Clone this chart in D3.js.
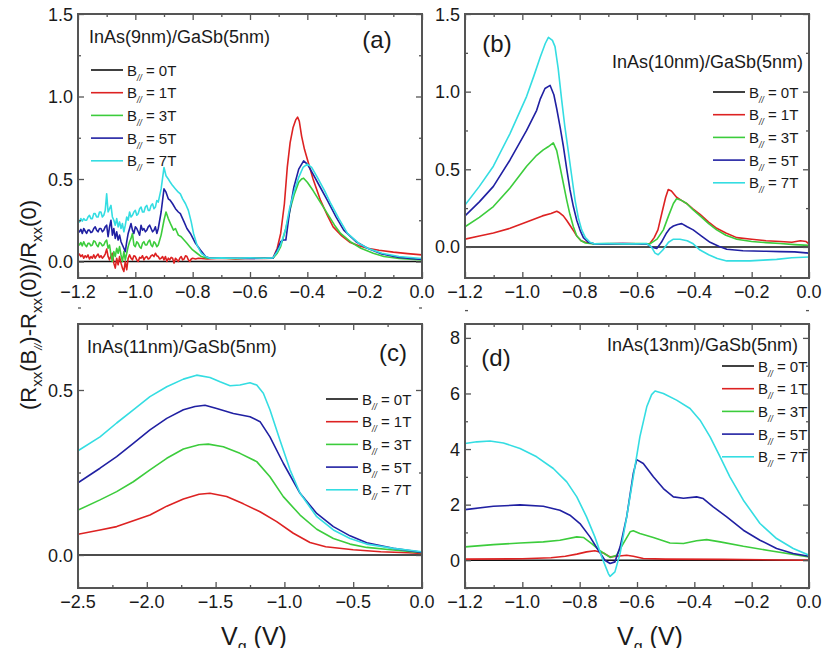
<!DOCTYPE html>
<html>
<head>
<meta charset="utf-8">
<script src="https://cdn.jsdelivr.net/npm/d3@7"></script>
<style>
  html, body { margin: 0; padding: 0; background: #fff; }
  svg { display: block; font-family: "Liberation Sans", Arial, sans-serif; }
</style>
</head>
<body>
<svg id="fig" width="822" height="657"></svg>
<script>
// Field strengths (legend order) and their line colours
const fields = ["0T", "1T", "3T", "5T", "7T"];
const fieldColors = ["#111111", "#dd2222", "#3ccc3c", "#2020a2", "#34dde2"];

// ---------- (a) InAs(9nm)/GaSb(5nm) : [Vg, ΔR/R] ----------
const a1T = [[-1.2,0.035],[-1.195,0.045],[-1.19,0.03],[-1.185,0.04],[-1.18,0.02],[-1.175,0.035],[-1.17,0.025],[-1.165,0.04],[-1.16,0.015],[-1.155,0.03],[-1.15,0.02],[-1.145,0.04],[-1.14,0.02],[-1.135,0.035],[-1.13,0.045],[-1.125,0.025],[-1.12,0.035],[-1.115,0.02],[-1.11,0.03],[-1.105,0.045],[-1.1,0.075],[-1.095,0.03],[-1.09,0.01],[-1.085,0.035],[-1.08,0.05],[-1.075,-0.01],[-1.07,-0.04],[-1.065,0.02],[-1.06,-0.02],[-1.055,0.03],[-1.05,-0.01],[-1.045,-0.04],[-1.04,-0.06],[-1.035,0.0],[-1.03,-0.05],[-1.025,0.02],[-1.02,0.04],[-1.015,0.02],[-1.01,0.01],[-1.005,0.035],[-1.0,0.03],[-0.995,0.01],[-0.99,0.0],[-0.985,0.025],[-0.98,0.02],[-0.975,0.035],[-0.97,0.01],[-0.965,0.025],[-0.96,0.03],[-0.955,0.015],[-0.95,0.02],[-0.945,0.035],[-0.94,0.04],[-0.935,0.03],[-0.93,0.05],[-0.925,0.035],[-0.92,0.03],[-0.915,0.015],[-0.91,0.02],[-0.905,0.03],[-0.9,0.01],[-0.895,0.03],[-0.89,0.0],[-0.885,0.02],[-0.88,0.01],[-0.875,0.025],[-0.87,0.02],[-0.865,-0.01],[-0.86,0.02],[-0.855,0.01],[-0.85,0.0],[-0.845,0.02],[-0.84,0.03],[-0.835,0.01],[-0.83,0.015],[-0.825,0.035],[-0.82,0.03],[-0.815,0.01],[-0.81,0.0],[-0.805,0.015],[-0.8,0.02],[-0.79,0.015],[-0.78,0.02],[-0.75,0.015],[-0.7,0.02],[-0.65,0.015],[-0.6,0.02],[-0.55,0.018],[-0.52,0.02],[-0.505,0.08],[-0.493,0.17],[-0.48,0.35],[-0.47,0.57],[-0.46,0.72],[-0.45,0.81],[-0.44,0.86],[-0.434,0.875],[-0.428,0.85],[-0.42,0.76],[-0.41,0.68],[-0.4,0.62],[-0.38,0.5],[-0.354,0.37],[-0.33,0.28],[-0.31,0.21],[-0.28,0.155],[-0.25,0.115],[-0.22,0.095],[-0.19,0.08],[-0.15,0.068],[-0.1,0.057],[-0.05,0.048],[0.0,0.04]];
const a3T = [[-1.2,0.11],[-1.195,0.1],[-1.19,0.115],[-1.185,0.095],[-1.18,0.12],[-1.175,0.1],[-1.17,0.09],[-1.165,0.11],[-1.16,0.11],[-1.155,0.095],[-1.15,0.1],[-1.145,0.125],[-1.14,0.12],[-1.135,0.1],[-1.13,0.09],[-1.125,0.115],[-1.12,0.11],[-1.115,0.095],[-1.11,0.1],[-1.105,0.12],[-1.1,0.13],[-1.095,0.08],[-1.09,0.1],[-1.085,0.04],[-1.08,0.0],[-1.075,0.06],[-1.07,0.03],[-1.065,0.08],[-1.06,0.05],[-1.055,0.09],[-1.05,0.04],[-1.045,0.0],[-1.04,0.06],[-1.035,0.01],[-1.03,0.05],[-1.025,0.09],[-1.02,0.12],[-1.015,0.14],[-1.01,0.17],[-1.005,0.1],[-1.0,0.09],[-0.995,0.12],[-0.99,0.11],[-0.985,0.09],[-0.98,0.08],[-0.975,0.11],[-0.97,0.12],[-0.965,0.1],[-0.96,0.1],[-0.955,0.12],[-0.95,0.13],[-0.945,0.1],[-0.94,0.09],[-0.935,0.12],[-0.93,0.11],[-0.925,0.09],[-0.92,0.1],[-0.91,0.16],[-0.9,0.25],[-0.893,0.3],[-0.885,0.26],[-0.875,0.22],[-0.867,0.19],[-0.86,0.2],[-0.85,0.16],[-0.84,0.15],[-0.83,0.13],[-0.82,0.11],[-0.81,0.09],[-0.8,0.07],[-0.785,0.05],[-0.77,0.03],[-0.75,0.02],[-0.7,0.02],[-0.65,0.018],[-0.6,0.02],[-0.55,0.02],[-0.52,0.02],[-0.505,0.05],[-0.493,0.09],[-0.475,0.2],[-0.458,0.33],[-0.445,0.41],[-0.43,0.48],[-0.42,0.5],[-0.413,0.505],[-0.4,0.48],[-0.38,0.43],[-0.355,0.36],[-0.33,0.29],[-0.305,0.22],[-0.284,0.17],[-0.25,0.12],[-0.213,0.08],[-0.17,0.05],[-0.133,0.03],[-0.08,0.018],[0.0,0.01]];
const a5T = [[-1.2,0.19],[-1.195,0.18],[-1.19,0.195],[-1.185,0.17],[-1.18,0.2],[-1.175,0.185],[-1.17,0.17],[-1.165,0.19],[-1.16,0.19],[-1.155,0.175],[-1.15,0.18],[-1.145,0.2],[-1.14,0.21],[-1.135,0.19],[-1.13,0.18],[-1.125,0.2],[-1.12,0.2],[-1.115,0.18],[-1.11,0.19],[-1.105,0.21],[-1.1,0.22],[-1.095,0.15],[-1.09,0.21],[-1.085,0.25],[-1.08,0.16],[-1.075,0.2],[-1.07,0.14],[-1.065,0.18],[-1.06,0.13],[-1.055,0.16],[-1.05,0.12],[-1.045,0.1],[-1.04,0.08],[-1.035,0.06],[-1.03,0.12],[-1.025,0.17],[-1.02,0.2],[-1.015,0.23],[-1.01,0.19],[-1.005,0.17],[-1.0,0.21],[-0.995,0.2],[-0.99,0.18],[-0.985,0.16],[-0.98,0.22],[-0.975,0.19],[-0.97,0.2],[-0.965,0.18],[-0.96,0.19],[-0.955,0.21],[-0.95,0.22],[-0.945,0.2],[-0.94,0.18],[-0.935,0.19],[-0.93,0.21],[-0.925,0.17],[-0.92,0.2],[-0.91,0.3],[-0.9,0.44],[-0.893,0.42],[-0.885,0.38],[-0.878,0.37],[-0.87,0.35],[-0.86,0.32],[-0.85,0.3],[-0.843,0.29],[-0.83,0.24],[-0.82,0.2],[-0.808,0.17],[-0.79,0.11],[-0.773,0.07],[-0.755,0.03],[-0.74,0.02],[-0.7,0.02],[-0.65,0.02],[-0.6,0.018],[-0.55,0.02],[-0.52,0.02],[-0.505,0.07],[-0.493,0.12],[-0.485,0.13],[-0.475,0.13],[-0.462,0.3],[-0.447,0.45],[-0.43,0.56],[-0.413,0.61],[-0.4,0.59],[-0.38,0.53],[-0.355,0.45],[-0.33,0.37],[-0.3,0.27],[-0.273,0.19],[-0.23,0.12],[-0.19,0.08],[-0.14,0.045],[-0.08,0.025],[0.0,0.012]];
const a7T = [[-1.2,0.25],[-1.195,0.24],[-1.19,0.26],[-1.185,0.245],[-1.18,0.26],[-1.175,0.25],[-1.17,0.25],[-1.165,0.27],[-1.16,0.28],[-1.155,0.26],[-1.15,0.26],[-1.145,0.29],[-1.14,0.29],[-1.135,0.27],[-1.13,0.27],[-1.125,0.3],[-1.12,0.3],[-1.115,0.27],[-1.11,0.28],[-1.105,0.31],[-1.1,0.41],[-1.095,0.3],[-1.09,0.32],[-1.085,0.34],[-1.08,0.27],[-1.075,0.25],[-1.07,0.22],[-1.065,0.26],[-1.06,0.21],[-1.055,0.24],[-1.05,0.2],[-1.045,0.23],[-1.04,0.18],[-1.035,0.22],[-1.03,0.27],[-1.025,0.25],[-1.02,0.3],[-1.015,0.27],[-1.01,0.28],[-1.005,0.3],[-1.0,0.31],[-0.995,0.28],[-0.99,0.29],[-0.985,0.32],[-0.98,0.33],[-0.975,0.3],[-0.97,0.3],[-0.965,0.33],[-0.96,0.34],[-0.955,0.31],[-0.95,0.31],[-0.945,0.34],[-0.94,0.35],[-0.935,0.32],[-0.93,0.33],[-0.925,0.37],[-0.92,0.36],[-0.91,0.44],[-0.9,0.57],[-0.893,0.52],[-0.885,0.5],[-0.878,0.48],[-0.87,0.46],[-0.86,0.44],[-0.85,0.42],[-0.843,0.41],[-0.835,0.38],[-0.825,0.35],[-0.815,0.31],[-0.805,0.24],[-0.797,0.17],[-0.785,0.1],[-0.77,0.05],[-0.755,0.03],[-0.74,0.02],[-0.7,0.022],[-0.65,0.02],[-0.6,0.022],[-0.55,0.02],[-0.52,0.022],[-0.505,0.06],[-0.493,0.1],[-0.475,0.2],[-0.462,0.32],[-0.447,0.42],[-0.43,0.51],[-0.415,0.57],[-0.4,0.59],[-0.385,0.57],[-0.365,0.51],[-0.34,0.43],[-0.318,0.35],[-0.29,0.26],[-0.26,0.17],[-0.22,0.11],[-0.19,0.08],[-0.14,0.05],[-0.08,0.03],[0.0,0.018]];

// ---------- (b) InAs(10nm)/GaSb(5nm) ----------
const b1T = [[-1.2,0.05],[-1.15,0.07],[-1.101,0.09],[-1.043,0.12],[-0.985,0.16],[-0.93,0.2],[-0.9,0.215],[-0.88,0.23],[-0.87,0.22],[-0.857,0.2],[-0.845,0.17],[-0.834,0.14],[-0.82,0.1],[-0.81,0.07],[-0.795,0.04],[-0.78,0.03],[-0.75,0.02],[-0.7,0.02],[-0.65,0.022],[-0.6,0.02],[-0.555,0.022],[-0.54,0.06],[-0.527,0.11],[-0.513,0.22],[-0.5,0.32],[-0.491,0.37],[-0.48,0.36],[-0.462,0.32],[-0.445,0.3],[-0.427,0.28],[-0.405,0.245],[-0.38,0.21],[-0.35,0.16],[-0.322,0.12],[-0.29,0.09],[-0.252,0.06],[-0.2,0.05],[-0.15,0.04],[-0.1,0.035],[-0.06,0.03],[-0.03,0.04],[-0.01,0.035],[0.0,0.02]];
const b3T = [[-1.2,0.13],[-1.15,0.19],[-1.101,0.26],[-1.043,0.38],[-0.985,0.52],[-0.95,0.59],[-0.927,0.625],[-0.91,0.645],[-0.892,0.67],[-0.88,0.62],[-0.869,0.52],[-0.857,0.41],[-0.845,0.3],[-0.834,0.21],[-0.822,0.13],[-0.81,0.07],[-0.795,0.04],[-0.78,0.025],[-0.75,0.02],[-0.7,0.022],[-0.65,0.02],[-0.6,0.022],[-0.555,0.02],[-0.53,0.05],[-0.508,0.11],[-0.49,0.2],[-0.473,0.28],[-0.462,0.31],[-0.445,0.3],[-0.427,0.28],[-0.405,0.24],[-0.38,0.2],[-0.35,0.15],[-0.322,0.11],[-0.29,0.075],[-0.252,0.05],[-0.2,0.035],[-0.15,0.028],[-0.1,0.022],[-0.05,0.015],[0.0,0.01]];
const b5T = [[-1.2,0.2],[-1.15,0.29],[-1.101,0.39],[-1.043,0.56],[-0.985,0.75],[-0.95,0.88],[-0.938,0.95],[-0.921,1.02],[-0.903,1.04],[-0.89,0.98],[-0.88,0.89],[-0.868,0.77],[-0.857,0.65],[-0.845,0.5],[-0.834,0.37],[-0.822,0.26],[-0.81,0.17],[-0.797,0.1],[-0.787,0.06],[-0.77,0.03],[-0.75,0.02],[-0.7,0.02],[-0.65,0.022],[-0.6,0.02],[-0.566,0.02],[-0.55,0.0],[-0.531,-0.01],[-0.515,0.03],[-0.497,0.09],[-0.485,0.12],[-0.473,0.135],[-0.458,0.145],[-0.444,0.15],[-0.425,0.13],[-0.404,0.11],[-0.375,0.07],[-0.345,0.03],[-0.315,0.005],[-0.287,-0.015],[-0.23,-0.025],[-0.15,-0.028],[-0.1,-0.03],[-0.05,-0.032],[0.0,-0.04]];
const b7T = [[-1.2,0.27],[-1.15,0.39],[-1.101,0.52],[-1.043,0.73],[-0.985,0.97],[-0.96,1.1],[-0.938,1.22],[-0.92,1.31],[-0.909,1.35],[-0.895,1.33],[-0.886,1.29],[-0.875,1.15],[-0.863,0.95],[-0.852,0.78],[-0.84,0.62],[-0.828,0.46],[-0.816,0.3],[-0.805,0.19],[-0.793,0.11],[-0.78,0.06],[-0.764,0.03],[-0.75,0.02],[-0.7,0.022],[-0.65,0.02],[-0.6,0.02],[-0.566,0.022],[-0.55,0.0],[-0.537,-0.04],[-0.526,-0.05],[-0.51,-0.02],[-0.49,0.03],[-0.473,0.05],[-0.45,0.05],[-0.425,0.04],[-0.404,0.02],[-0.38,-0.02],[-0.35,-0.05],[-0.32,-0.075],[-0.287,-0.09],[-0.25,-0.09],[-0.206,-0.09],[-0.16,-0.085],[-0.113,-0.08],[-0.06,-0.07],[0.0,-0.065]];

// ---------- (c) InAs(11nm)/GaSb(5nm) ----------
const c1T = [[-2.5,0.063],[-2.34,0.076],[-2.219,0.086],[-2.098,0.104],[-1.977,0.121],[-1.855,0.148],[-1.734,0.17],[-1.62,0.184],[-1.541,0.187],[-1.42,0.177],[-1.298,0.155],[-1.177,0.131],[-1.056,0.101],[-0.935,0.066],[-0.814,0.038],[-0.7,0.025],[-0.5,0.016],[-0.3,0.01],[-0.1,0.007],[0.0,0.005]];
const c3T = [[-2.5,0.136],[-2.34,0.167],[-2.219,0.192],[-2.098,0.222],[-1.977,0.258],[-1.855,0.293],[-1.734,0.321],[-1.62,0.334],[-1.553,0.336],[-1.444,0.328],[-1.323,0.308],[-1.201,0.283],[-1.105,0.237],[-1.008,0.177],[-0.886,0.121],[-0.765,0.078],[-0.644,0.05],[-0.523,0.033],[-0.402,0.023],[-0.208,0.015],[0.0,0.007]];
const c5T = [[-2.5,0.219],[-2.34,0.263],[-2.219,0.298],[-2.098,0.338],[-1.977,0.379],[-1.855,0.414],[-1.734,0.44],[-1.65,0.45],[-1.577,0.454],[-1.492,0.444],[-1.371,0.429],[-1.25,0.419],[-1.177,0.404],[-1.105,0.358],[-1.008,0.278],[-0.886,0.187],[-0.765,0.126],[-0.644,0.086],[-0.523,0.058],[-0.402,0.037],[-0.208,0.02],[0.0,0.008]];
const c7T = [[-2.5,0.316],[-2.34,0.358],[-2.219,0.4],[-2.098,0.44],[-1.977,0.48],[-1.855,0.51],[-1.734,0.533],[-1.638,0.545],[-1.541,0.538],[-1.468,0.525],[-1.395,0.513],[-1.323,0.515],[-1.25,0.522],[-1.201,0.515],[-1.153,0.49],[-1.105,0.44],[-1.032,0.348],[-0.959,0.258],[-0.886,0.187],[-0.765,0.116],[-0.644,0.076],[-0.523,0.05],[-0.402,0.033],[-0.208,0.02],[0.0,0.01]];

// ---------- (d) InAs(13nm)/GaSb(5nm) ----------
const d1T = [[-1.2,0.04],[-1.0,0.05],[-0.9,0.09],[-0.85,0.14],[-0.81,0.22],[-0.776,0.3],[-0.747,0.34],[-0.717,0.26],[-0.694,0.12],[-0.671,0.14],[-0.636,0.18],[-0.613,0.14],[-0.578,0.06],[-0.5,0.04],[-0.3,0.03],[-0.1,0.01],[0.0,0.0]];
const d3T = [[-1.2,0.48],[-1.101,0.56],[-1.008,0.62],[-0.927,0.66],[-0.869,0.72],[-0.81,0.84],[-0.787,0.82],[-0.758,0.6],[-0.729,0.34],[-0.694,0.1],[-0.671,0.18],[-0.648,0.6],[-0.624,1.02],[-0.613,1.06],[-0.59,0.96],[-0.543,0.82],[-0.485,0.62],[-0.438,0.6],[-0.392,0.7],[-0.357,0.74],[-0.31,0.66],[-0.229,0.5],[-0.136,0.34],[0.0,0.12]];
const d5T = [[-1.2,1.82],[-1.101,1.94],[-1.008,1.99],[-0.927,1.94],[-0.869,1.8],[-0.834,1.62],[-0.799,1.32],[-0.764,0.84],[-0.735,0.36],[-0.712,0.0],[-0.694,-0.12],[-0.677,-0.06],[-0.659,0.48],[-0.636,1.56],[-0.613,3.12],[-0.601,3.62],[-0.578,3.48],[-0.543,3.0],[-0.508,2.58],[-0.473,2.28],[-0.438,2.23],[-0.392,2.28],[-0.369,2.22],[-0.334,1.92],[-0.287,1.56],[-0.229,1.08],[-0.171,0.72],[-0.113,0.42],[-0.055,0.24],[0.0,0.14]];
const d7T = [[-1.2,4.2],[-1.159,4.26],[-1.113,4.29],[-1.066,4.22],[-1.008,4.02],[-0.95,3.72],[-0.892,3.3],[-0.845,2.82],[-0.81,2.28],[-0.776,1.56],[-0.747,0.84],[-0.723,0.12],[-0.7,-0.48],[-0.694,-0.58],[-0.677,-0.42],[-0.659,0.24],[-0.636,1.56],[-0.613,3.0],[-0.59,4.44],[-0.566,5.52],[-0.549,5.96],[-0.537,6.09],[-0.508,6.0],[-0.462,5.76],[-0.415,5.46],[-0.38,5.04],[-0.345,4.44],[-0.31,3.72],[-0.276,3.0],[-0.229,2.16],[-0.171,1.32],[-0.113,0.78],[-0.055,0.42],[0.0,0.18]];

// Axis ticks and labels
const xTicksAB = [-1.2, -1.0, -0.8, -0.6, -0.4, -0.2, 0.0];
const xTicksC = [-2.5, -2.0, -1.5, -1.0, -0.5, 0.0];
const yTicksA = [0.0, 0.5, 1.0, 1.5];
const yTicksC = [0.0, 0.5];
const yTicksD = [0, 2, 4, 6, 8];

const panels = [
  { tag: "(a)", title: "InAs(9nm)/GaSb(5nm)", box: [78, 14, 422, 278], xd: [-1.2, 0], yd: [-0.1, 1.5],
    xt: xTicksAB, xm: 0.1, xf: d3.format(".1f"), yt: yTicksA, ym: 0.25, yf: d3.format(".1f"),
    series: [null, a1T, a3T, a5T, a7T],
    tagPos: [377, 48], titlePos: [89, 43, "start"], leg: [91, 70] },
  { tag: "(b)", title: "InAs(10nm)/GaSb(5nm)", box: [465, 14, 809, 278], xd: [-1.2, 0], yd: [-0.2, 1.5],
    xt: xTicksAB, xm: 0.1, xf: d3.format(".1f"), yt: yTicksA, ym: 0.25, yf: d3.format(".1f"),
    series: [null, b1T, b3T, b5T, b7T],
    tagPos: [497, 52], titlePos: [803, 68, "end"], leg: [713, 92] },
  { tag: "(c)", title: "InAs(11nm)/GaSb(5nm)", box: [78, 324, 422, 588], xd: [-2.5, 0], yd: [-0.1, 0.7],
    xt: xTicksC, xm: 0.25, xf: d3.format(".1f"), yt: yTicksC, ym: 0.25, yf: d3.format(".1f"),
    series: [null, c1T, c3T, c5T, c7T],
    tagPos: [393, 361], titlePos: [87, 353, "start"], leg: [326, 399] },
  { tag: "(d)", title: "InAs(13nm)/GaSb(5nm)", box: [465, 324, 809, 588], xd: [-1.2, 0], yd: [-1, 8.5],
    xt: xTicksAB, xm: 0.1, xf: d3.format(".1f"), yt: yTicksD, ym: 1, yf: d3.format("d"),
    series: [null, d1T, d3T, d5T, d7T],
    tagPos: [496, 366], titlePos: [798, 351, "end"], leg: [722, 366] }
];

const svg = d3.select("#fig");
const frameColor = "#555";
const textColor = "#1a1a1a";

function range(a, b, step) {
  const out = [];
  const n = Math.round((b - a) / step);
  for (let i = 0; i <= n; i++) out.push(+(a + i * step).toFixed(6));
  return out;
}

panels.forEach((p, idx) => {
  const [x0, y0, x1, y1] = p.box;
  const x = d3.scaleLinear().domain(p.xd).range([x0, x1]);
  const y = d3.scaleLinear().domain(p.yd).range([y1, y0]);
  const g = svg.append("g");
  const clipId = "clip" + idx;
  svg.append("clipPath").attr("id", clipId)
    .append("rect").attr("x", x0).attr("y", y0).attr("width", x1 - x0).attr("height", y1 - y0);

  // zero-field reference line (0T)
  const zero = [[p.xd[0], 0], [p.xd[1], 0]];
  const line = d3.line().x(d => x(d[0])).y(d => y(d[1]));
  const curves = g.append("g").attr("clip-path", `url(#${clipId})`);
  curves.append("path").datum(zero).attr("d", line)
    .attr("fill", "none").attr("stroke", fieldColors[0]).attr("stroke-width", 1.6);
  p.series.forEach((s, i) => {
    if (!s) return;
    curves.append("path").datum(s).attr("d", line)
      .attr("fill", "none").attr("stroke", fieldColors[i]).attr("stroke-width", 1.6)
      .attr("stroke-linejoin", "round");
  });

  // ticks: inward on all four sides
  const xMinor = range(p.xd[0], p.xd[1], p.xm).filter(v => !p.xt.some(t => Math.abs(t - v) < 1e-6));
  const yMinor = range(Math.ceil(p.yd[0] / p.ym) * p.ym, p.yd[1], p.ym)
    .filter(v => !p.yt.some(t => Math.abs(t - v) < 1e-6));
  const tickG = g.append("g");
  tickG.append("g").attr("transform", `translate(0,${y1})`)
    .call(d3.axisBottom(x).tickValues(p.xt).tickSize(-6).tickFormat("").tickSizeOuter(0));
  tickG.append("g").attr("transform", `translate(0,${y1})`)
    .call(d3.axisBottom(x).tickValues(xMinor).tickSize(-3).tickFormat("").tickSizeOuter(0));
  tickG.append("g").attr("transform", `translate(0,${y0})`)
    .call(d3.axisTop(x).tickValues(p.xt).tickSize(-6).tickFormat("").tickSizeOuter(0));
  tickG.append("g").attr("transform", `translate(0,${y0})`)
    .call(d3.axisTop(x).tickValues(xMinor).tickSize(-3).tickFormat("").tickSizeOuter(0));
  tickG.append("g").attr("transform", `translate(${x0},0)`)
    .call(d3.axisLeft(y).tickValues(p.yt).tickSize(-6).tickFormat("").tickSizeOuter(0));
  tickG.append("g").attr("transform", `translate(${x0},0)`)
    .call(d3.axisLeft(y).tickValues(yMinor).tickSize(-3).tickFormat("").tickSizeOuter(0));
  tickG.append("g").attr("transform", `translate(${x1},0)`)
    .call(d3.axisRight(y).tickValues(p.yt).tickSize(-6).tickFormat("").tickSizeOuter(0));
  tickG.append("g").attr("transform", `translate(${x1},0)`)
    .call(d3.axisRight(y).tickValues(yMinor).tickSize(-3).tickFormat("").tickSizeOuter(0));
  tickG.selectAll(".domain").remove();
  tickG.selectAll("line").attr("stroke", frameColor).attr("stroke-width", 1.3);

  // frame
  g.append("rect").attr("x", x0).attr("y", y0).attr("width", x1 - x0).attr("height", y1 - y0)
    .attr("fill", "none").attr("stroke", frameColor).attr("stroke-width", 2);

  // tick labels
  g.append("g").selectAll("text").data(p.xt).join("text")
    .attr("x", d => x(d)).attr("y", y1 + 20)
    .attr("text-anchor", "middle").attr("font-size", 18).attr("fill", textColor)
    .text(d => p.xf(d));
  g.append("g").selectAll("text").data(p.yt).join("text")
    .attr("x", x0 - 5).attr("y", d => y(d) + 6.5)
    .attr("text-anchor", "end").attr("font-size", 18).attr("fill", textColor)
    .text(d => p.yf(d));

  // panel tag and sample title
  g.append("text").attr("x", p.tagPos[0]).attr("y", p.tagPos[1])
    .attr("text-anchor", "middle").attr("font-size", 24).attr("fill", textColor).text(p.tag);
  g.append("text").attr("x", p.titlePos[0]).attr("y", p.titlePos[1])
    .attr("text-anchor", p.titlePos[2]).attr("font-size", 18).attr("fill", textColor).text(p.title);

  // legend
  const lg = g.append("g");
  fields.forEach((f, i) => {
    const ly = p.leg[1] + i * 22.7;
    lg.append("line").attr("x1", p.leg[0]).attr("x2", p.leg[0] + 32)
      .attr("y1", ly).attr("y2", ly).attr("stroke", fieldColors[i]).attr("stroke-width", 1.6);
    const t = lg.append("text").attr("x", p.leg[0] + 36).attr("y", ly + 5.5)
      .attr("font-size", 15).attr("fill", textColor);
    t.append("tspan").text("B");
    t.append("tspan").attr("font-size", 8.5).attr("dy", 5).attr("font-style", "italic").text("//");
    t.append("tspan").attr("dy", -5).text(" = " + f);
  });
});

// shared axis titles
const yl = svg.append("text").attr("transform", "translate(36,305) rotate(-90)")
  .attr("text-anchor", "middle").attr("font-size", 22).attr("fill", textColor);
yl.append("tspan").text("(R");
yl.append("tspan").attr("font-size", 15).attr("dy", 6).text("xx");
yl.append("tspan").attr("dy", -6).text("(B");
yl.append("tspan").attr("font-size", 11).attr("dy", 6).attr("font-style", "italic").text("//");
yl.append("tspan").attr("dy", -6).text(")-R");
yl.append("tspan").attr("font-size", 15).attr("dy", 6).text("xx");
yl.append("tspan").attr("dy", -6).text("(0))/R");
yl.append("tspan").attr("font-size", 15).attr("dy", 6).text("xx");
yl.append("tspan").attr("dy", -6).text("(0)");

[254, 650].forEach(cx => {
  const t = svg.append("text").attr("x", cx).attr("y", 645)
    .attr("text-anchor", "middle").attr("font-size", 25).attr("fill", textColor);
  t.append("tspan").text("V");
  t.append("tspan").attr("font-size", 16).attr("dy", 7).text("g");
  t.append("tspan").attr("dy", -7).text(" (V)");
});
// bottom strip of the figure is trimmed
svg.append("rect").attr("x", 0).attr("y", 648).attr("width", 822).attr("height", 9).attr("fill", "#fff");
</script>
</body>
</html>
